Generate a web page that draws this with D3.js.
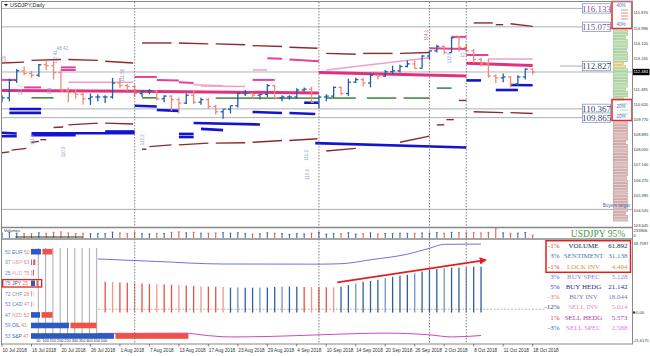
<!DOCTYPE html>
<html><head><meta charset="utf-8">
<script src="https://cdn.jsdelivr.net/npm/d3@7"></script>
<style>html,body{margin:0;padding:0;background:#fff;}svg{display:block;}</style>
</head><body>
<svg id="c" width="650" height="356"></svg>
<script>
// ---------------- DATA ----------------
const tickIdx = [0,4,8,12,16,20,24,28,32,36,40,44,48,52,56,60,64,68,72];
const tickLabels = ["10 Jul 2018","16 Jul 2018","20 Jul 2018","26 Jul 2018","1 Aug 2018","7 Aug 2018","13 Aug 2018","17 Aug 2018","23 Aug 2018","29 Aug 2018","4 Sep 2018","10 Sep 2018","14 Sep 2018","20 Sep 2018","26 Sep 2018","2 Oct 2018","8 Oct 2018","11 Oct 2018","18 Oct 2018"];
const openP  = [110.85,111.00,112.00,112.55,112.40,112.30,112.90,112.85,112.45,111.40,111.30,111.20,110.95,111.05,111.05,111.05,111.85,111.70,111.65,111.25,111.40,111.40,110.95,111.10,110.90,110.70,111.15,110.75,110.90,110.50,110.20,110.35,110.55,111.25,111.25,111.15,111.20,111.70,111.00,111.05,111.05,111.45,111.50,110.75,111.05,111.10,111.60,111.25,111.90,112.05,111.85,112.30,112.25,112.50,112.55,112.80,112.95,112.70,113.40,113.70,113.95,113.60,114.45,113.90,113.70,113.20,112.95,112.25,112.15,112.20,111.80,112.20,112.65];
const highP  = [111.15,112.10,112.65,112.80,112.55,112.95,113.15,113.18,112.60,111.60,111.45,111.30,111.25,111.20,111.15,112.15,112.15,111.80,111.75,111.45,111.50,111.45,111.15,111.15,111.00,111.25,111.45,111.00,111.00,110.60,110.35,110.55,111.30,111.45,111.30,111.20,111.80,111.75,111.15,111.15,111.55,111.60,111.65,111.15,111.20,111.65,111.65,112.10,112.15,112.15,112.40,112.35,112.60,112.85,112.90,113.15,113.15,113.45,113.70,114.05,114.00,114.50,114.55,114.10,113.80,113.30,113.25,112.35,112.40,112.25,112.30,112.70,112.70];
const lowP   = [110.75,110.80,111.85,112.30,112.15,112.20,112.60,112.05,111.40,110.75,110.95,110.60,110.60,110.80,110.70,110.95,111.55,111.40,111.05,111.05,111.20,110.85,110.75,110.25,110.10,110.65,110.65,110.60,110.40,110.05,109.80,110.10,110.45,111.10,110.95,110.90,111.05,110.90,110.80,110.90,110.95,111.35,110.70,110.40,110.80,111.00,111.15,111.10,111.85,111.65,111.60,112.05,112.20,112.35,112.45,112.75,112.65,112.70,113.20,113.60,113.50,113.60,113.65,113.60,113.00,112.80,112.15,111.85,111.90,111.60,111.70,112.05,112.35];
const closeP = [111.00,112.00,112.55,112.40,112.30,112.90,112.85,112.45,111.40,111.30,111.20,110.95,111.05,111.05,111.05,111.85,111.70,111.65,111.25,111.40,111.40,110.95,111.10,110.90,110.70,111.15,110.75,110.90,110.50,110.20,110.35,110.55,111.25,111.25,111.15,111.20,111.70,111.00,111.05,111.05,111.45,111.50,110.75,111.05,111.10,111.60,111.25,111.90,112.05,111.85,112.30,112.25,112.50,112.55,112.80,112.95,112.70,113.40,113.70,113.95,113.60,114.45,113.90,113.70,113.20,112.95,112.25,112.15,112.20,111.80,112.20,112.65,112.48];
const currentPrice = 112.484;
const volumes = [120,135,118,110,105,128,115,140,150,125,110,118,105,112,108,145,125,112,130,108,100,115,110,138,150,128,140,118,120,125,132,118,130,112,98,102,128,120,110,85,108,100,118,135,98,112,104,130,96,105,125,100,110,112,118,116,114,124,120,132,118,140,135,128,130,125,138,228,128,115,120,135,70];
const volumeMax = 233906;
const volumeLine = [[1.8,25],[11,25]];
const axisPrices = [115.870,114.996,114.120,113.245,111.495,110.620,109.770,108.895,108.020,107.140,106.270,105.395,104.520,103.645];
const levelValues = [116.133,115.075,110.367,109.865];
const levelBoxValues = [116.133,115.075,112.827,110.367,109.865];
const buyersTarget = 104.6;
const separatorIdx = [18,43,58,63];
// segments: [startIdx, endIdx, startPrice, endPrice]
const maroonSegs = [[0,3,113.0,113.05],[4,8,113.15,113.2],[9,13,113.2,113.15],[14,17.8,113.1,113.0],
 [19,23,114.15,114.15],[24,28,114.15,114.1],[29,33,114.1,114.05],[34,38,114.0,113.95],[39,42.8,113.9,113.85],
 [44,48,113.55,113.5],[49,53,113.55,113.55],[54,58,113.55,113.6],[64,66.6,115.3,115.3],[67,68,115.2,115.2],[69,72,115.25,115.1],
 [0,1,107.85,107.9],[1.3,3.3,108.0,108.1],[4,5,108.45,108.5],[5.2,6,108.6,108.6],[7,8.3,109.3,109.33],[9,13,109.45,109.55],[14,17.8,109.55,109.5],
 [19,19.6,108.05,108.05],[20,23,108.2,108.3],[24,28,108.3,108.4],[29,33,108.4,108.42],[34,38,108.45,108.55],[39,42.8,108.55,108.65],
 [44,48,107.95,108.1],[54,58,108.45,108.8],[59,60,109.45,109.45],[60.3,61.3,109.75,109.75],[62,63,110.85,110.85],[64,68,110.2,110.15],[69,72,110.15,110.1]];
const blueSegs = [[1,5.3,110.36,110.36],[1,5.3,110.14,110.14],[0,2,109.0,108.95],[0,2,108.8,108.8],[4,18,108.97,108.97],[4,10,108.85,108.85],[14,18,109.07,109.07],
 [18,21,110.55,110.5],[21,24,110.3,110.25],[24,26,108.93,108.93],[24,26,108.75,108.75],[26,35,109.56,109.47],[27,30,109.22,109.15],
 [34,38,110.19,110.13],[39,42.5,110.13,110.07],[41,43,110.72,110.72],[42.5,63,108.4,108.15],[63,65,112.0,112.0],[67,70,111.45,111.45],[69,72,111.74,111.72]];
const greenSegs = [[4,7,111.0,111.0],[19,21,111.0,111.0],[29,43,110.99,110.99],[44,48,110.99,110.99],[49.5,53.5,110.99,110.99],[54.5,58,110.99,110.99],[59,61,111.56,111.56]];
const pinkThick = [[0,18,111.42,111.38],[18,43,111.38,111.28],[43,63,112.45,112.25],[63,72,112.98,112.85]];
const pinkSegs = [[0,2,112.03,112.03],[3,5.3,111.6,111.6],[8,10,112.6,112.6],[8,10,112.75,112.75],[18,21,112.2,112.2],[21,24,112.03,112.0],
 [24,26,111.9,111.85],[34,37,112.03,112.03],[36,38,113.28,113.25],[39,43,113.2,113.1],[58,63,113.85,113.8],[61,63,114.5,114.5],[63,66,113.46,113.46]];
const pinkLightSegs = [[9,17.8,111.9,111.9],[26,30,111.75,111.7],[27,33,111.68,111.65],[34,36,112.6,112.6],[44,58,112.6,113.3],[66,72,113.23,113.23]];
const annotations = [[7.4,113.35,"112.41",1,"#8aa6d6"],[8.2,113.72,"48 42",0,"#8aa6d6"],[0.6,113.2,"120",1,"#e07090"],[2.7,111.45,"111.7",1,"#8aa6d6"],
 [4.3,108.6,"111.9",1,"#8aa6d6"],[8.6,107.9,"110.9",1,"#8aa6d6"],[19.3,108.6,"112.2",1,"#8aa6d6"],[41.5,107.7,"111.2",1,"#8aa6d6"],
 [41.6,106.6,"110.6",1,"#8aa6d6"],[16.6,112.3,"111.56",1,"#8aa6d6"],[6.7,111.4,"111",1,"#8aa6d6"],[60.9,113.3,"112.8",1,"#8aa6d6"],
 [62.5,113.35,"12",0,"#8aa6d6"],[57.8,114.6,"114.1",1,"#e07090"]];
const profileGreen = [14,14,12,14,14,14,13,14,14,14,10,12,14,14,14,14,14,14,12,14,14,10];
const profileYellowIdx = [10,11];
const profileRose = [14,14,14,14,14,14,12,14,14,14,14,14,14,14,14,14,14,13,14,14,14,14,14,14,14,14,14,14,12,14,14];
const profilePctTop = ["40%","40%"];
const profilePctBottom = ["20%","20%"];
// lower panel
const currencies = ["EUR","GBP","AUD","JPY","CHF","CAD","NZD","OIL","S&P"];
const leftPct  = [50,37,25,75,72,53,47,59,53];
const rightPct = [50,63,75,25,28,47,53,41,47];
const nameColors = ["#5a78b8","#f0a0a8","#f0a0b0","#3a5a9a","#8a96a8","#4a7ac0","#f090a0","#3a66b8","#3a66b8"];
const buyVol  = [68,5,2,27,3,3,62,260,568];
const sellVol = [68,14,8,10,2,2,75,178,500];
const gridVals = [50,100,150,200,250,300,350,400,450,500];
const oscIdx = [14,15,16,17,18,19,20,21,22,23,24,25,26,27,28,29,30,31,32,33,34,35,36,37,38,39,40,41,42,43,44,45,46,47,48,49,50,51,52,53,54,55,56,57,58,59,60,61,62,63,64,65];
const oscVal = [22.0,21.8,21.5,21.2,21.0,20.7,20.4,20.2,20.0,19.8,19.6,19.3,19.0,18.7,18.5,18.4,18.2,17.8,17.8,17.7,17.8,17.8,17.9,18.3,18.5,18.6,18.5,18.3,18.2,18.0,18.0,18.0,18.5,19.6,20.8,22.0,22.6,23.4,24.4,25.5,26.2,27.0,28.0,29.2,30.4,31.0,31.5,32.0,32.0,32.3,32.6,32.7];
const oscCol = ["r","R","r","r","R","r","r","R","r","r","R","r","r","R","r","r","R","b","B","b","b","B","b","b","B","b","b","r","R","r","r","R","b","b","B","b","b","b","B","b","b","b","B","b","b","b","B","b","b","B","b","b"];
const slateLine = [[13,38.2],[21,36.4],[30,34.6],[43,34.5],[46,34.8],[50,37.6],[55,41.6],[58,45.8],[60,48.6],[65,48.8]];
const magentaLine = [[13,-14.8],[25,-14.6],[27,-15.8],[31,-17.3],[36,-17.0],[43,-15.8],[52,-14.6],[58,-15.8],[61,-17.3],[65,-16.3]];
const oscRefLevel = 2.4;
const arrowPts = [[45.5,21.6],[65.6,37.4]];
const oscAxis = [49.7597,0,-21.6175];
const tablePct = ["-1%","3%","-1%","3%","5%","-3%","-12%","1%","-3%"];
const tableNames = ["VOLUME","SENTIMENT","LOCK INV","BUY SPEC","BUY HEDG","BUY INV","SELL INV","SELL HEDG","SELL SPEC"];
const tableVals = ["61.892","31.138","4.404","5.128","21.142","18.044","5.014","5.573","2.588"];
const pctColors = ["#d04040","#3a6ab0","#d04040","#4a7ac0","#2a3a90","#e07060","#2a3a90","#d04040","#2a70a0"];
const tNameColors = ["#202050","#4a7ab0","#c89a40","#8a8ae0","#2a2a90","#7a7ab8","#e890b8","#c03a90","#e07ae0"];
const tValColors = ["#202040","#4a7ab0","#c89a40","#8a8ae0","#2a2a90","#7a7ab8","#e890b8","#c03a90","#e07ae0"];
const symbolStrength = "USDJPY 95%";

// ---------------- SCALES ----------------
const svg = d3.select("#c");
const x = d3.scaleLinear().domain([0,72]).range([2, 2+72*7.37]);
const yP = d3.scaleLinear().domain([103.645,115.870]).range([226,13]);
const yV = d3.scaleLinear().domain([0,233.906]).range([238,228.5]);
const yO = d3.scaleLinear().domain([-21.6175,49.7597]).range([343,242.7]);
const SANS = "'Liberation Sans', Arial, sans-serif";
const SERIF = "'Liberation Serif', 'Times New Roman', serif";

svg.append("rect").attr("width",650).attr("height",356).attr("fill","#fff");
const defs = svg.append("defs");
defs.append("clipPath").attr("id","cm").append("rect").attr("x",2).attr("y",2).attr("width",630).attr("height",225);
defs.append("marker").attr("id","arr").attr("viewBox","0 0 10 10").attr("refX",8).attr("refY",5)
  .attr("markerWidth",4).attr("markerHeight",4).attr("orient","auto")
  .append("path").attr("d","M0,0L10,5L0,10z").attr("fill","#e02020");

// ---------------- MAIN PANEL ----------------
const main = svg.append("g").attr("clip-path","url(#cm)");
main.selectAll(".lvl").data(levelValues).join("line")
  .attr("x1",2).attr("x2",583).attr("y1",d=>yP(d)).attr("y2",d=>yP(d))
  .attr("stroke","#a8b0b8").attr("stroke-width",1);
main.append("line").attr("x1",2).attr("x2",632).attr("y1",yP(buyersTarget)).attr("y2",yP(buyersTarget))
  .attr("stroke","#a8b0b8");
main.append("line").attr("x1",2).attr("x2",632).attr("y1",yP(currentPrice)).attr("y2",yP(currentPrice))
  .attr("stroke","#b0b4b8");
main.append("line").attr("x1",560).attr("x2",583).attr("y1",yP(levelBoxValues[2])).attr("y2",yP(levelBoxValues[2]))
  .attr("stroke","#a8b0b8");

function segs(data, color, w){
  main.append("g").selectAll("line").data(data).join("line")
    .attr("x1",d=>x(d[0])).attr("x2",d=>x(d[1])).attr("y1",d=>yP(d[2])).attr("y2",d=>yP(d[3]))
    .attr("stroke",color).attr("stroke-width",w);
}
segs(pinkLightSegs,"#f0a0c8",1.5);
segs(greenSegs,"#1f6a1f",1.3);
segs(maroonSegs,"#8b2a2a",1.4);
segs(blueSegs,"#1414d0",2.6);
segs(pinkThick,"#e0307e",3);
segs(pinkSegs,"#e8409a",2);

annotations.forEach(a=>{
  const t = main.append("text").attr("x",x(a[0])).attr("y",yP(a[1]))
    .attr("font-family",SANS).attr("font-size",4.5).attr("fill",a[4])
    .attr("text-anchor","middle").text(a[2]);
  if(a[3]) t.attr("transform",`rotate(-90,${x(a[0])},${yP(a[1])})`);
});

const bars = main.append("g");
d3.range(openP.length).forEach(i=>{
  const c = closeP[i] >= openP[i] ? "#1f5fa8" : "#f08a78";
  const xi = x(i);
  bars.append("line").attr("x1",xi).attr("x2",xi).attr("y1",yP(highP[i])).attr("y2",yP(lowP[i])).attr("stroke",c).attr("stroke-width",1.3);
  bars.append("line").attr("x1",xi-2.5).attr("x2",xi).attr("y1",yP(openP[i])).attr("y2",yP(openP[i])).attr("stroke",c).attr("stroke-width",1.3);
  bars.append("line").attr("x1",xi).attr("x2",xi+2.5).attr("y1",yP(closeP[i])).attr("y2",yP(closeP[i])).attr("stroke",c).attr("stroke-width",1.3);
});

const boxColors = ["#7d4f9e","#7d4f9e","#2e3f66","#3a3f7a","#3a3f7a"];
levelBoxValues.forEach((v,k)=>{
  const yy = yP(v);
  svg.append("rect").attr("x",582.5).attr("y",yy-4.7).attr("width",28).attr("height",9.4)
    .attr("fill","#fff").attr("stroke","#8a98b8").attr("stroke-width",0.8);
  svg.append("text").attr("x",596.5).attr("y",yy+3.2).attr("text-anchor","middle")
    .attr("font-family",SERIF).attr("font-size",9).attr("fill",boxColors[k]).text(v.toFixed(3));
});

const bandG = d3.scaleBand().domain(d3.range(profileGreen.length)).range([29,101]).padding(0.3);
svg.append("g").selectAll("rect").data(profileGreen).join("rect")
  .attr("x",613.5).attr("y",(d,i)=>bandG(i)).attr("width",d=>d).attr("height",bandG.bandwidth())
  .attr("fill",(d,i)=>profileYellowIdx.includes(i)?"#efe6a8":"#cfe6c4")
  .attr("stroke",(d,i)=>profileYellowIdx.includes(i)?"#c8b860":"#8cbf84").attr("stroke-width",0.6);
const bandR = d3.scaleBand().domain(d3.range(profileRose.length)).range([121,222]).padding(0.3);
svg.append("g").selectAll("rect").data(profileRose).join("rect")
  .attr("x",613.5).attr("y",(d,i)=>bandR(i)).attr("width",d=>d).attr("height",bandR.bandwidth())
  .attr("fill","#e8cccc").attr("stroke","#b88a8a").attr("stroke-width",0.6);
[10,13,16,19].forEach(d=>svg.append("line").attr("x1",621).attr("x2",628).attr("y1",d).attr("y2",d).attr("stroke","#e07070").attr("stroke-width",0.8));
[104,110,114].forEach(d=>svg.append("line").attr("x1",620).attr("x2",628).attr("y1",d).attr("y2",d).attr("stroke","#9fcf8f").attr("stroke-width",0.8));
const pctTxt = (t,yy)=>svg.append("text").attr("x",621).attr("y",yy).attr("text-anchor","middle").attr("font-family",SANS)
  .attr("font-size",4.6).attr("fill","#3a7ad0").text(t);
pctTxt(profilePctTop[0],7.2); pctTxt(profilePctTop[1],25.5);
pctTxt(profilePctBottom[0],108); pctTxt(profilePctBottom[1],117.5);
svg.append("rect").attr("x",612).attr("y",1.5).attr("width",20).attr("height",27).attr("fill","none").attr("stroke","#e02a2a").attr("stroke-width",1.5);
svg.append("rect").attr("x",612).attr("y",99.5).attr("width",20).attr("height",21).attr("fill","none").attr("stroke","#e02a2a").attr("stroke-width",1.5);
svg.append("text").attr("x",630).attr("y",206.5).attr("text-anchor","end").attr("font-family",SANS).attr("font-size",4.6)
  .attr("fill","#4a6aa8").text("Buyers target");

svg.append("path").attr("d","M4,4L8,4L6,6.5z").attr("fill","#222");
svg.append("text").attr("x",10).attr("y",7).attr("font-family",SANS).attr("font-size",5.5).attr("fill","#222").text("USDJPY,Daily");

// ---------------- VOLUME PANEL ----------------
const vg = svg.append("g");
volumes.forEach((v,i)=>{
  const c = closeP[i] >= openP[i] ? "#2d5f9e" : "#e8513f";
  vg.append("line").attr("x1",x(i)).attr("x2",x(i)).attr("y1",yV(0)).attr("y2",yV(v)).attr("stroke",c).attr("stroke-width",1);
  vg.append("line").attr("x1",x(i)-1).attr("x2",x(i)+1).attr("y1",yV(v)).attr("y2",yV(v)).attr("stroke",c).attr("stroke-width",0.8);
});
vg.append("path").datum(volumeLine).attr("d",d3.line().x(d=>x(d[0])).y(d=>yV(d[1]))).attr("stroke","#203a20").attr("stroke-width",1).attr("fill","none");
svg.append("text").attr("x",4).attr("y",232).attr("font-family",SANS).attr("font-size",4.2).attr("fill","#333").text("Volumes");
svg.append("text").attr("x",598).attr("y",236.5).attr("text-anchor","middle").attr("font-family",SERIF).attr("font-size",9.5)
  .attr("fill","#4a9a4a").text(symbolStrength);

// ---------------- LOWER PANEL ----------------
const lg = svg.append("g");
lg.append("line").attr("x1",98).attr("x2",545).attr("y1",yO(oscRefLevel)).attr("y2",yO(oscRefLevel))
  .attr("stroke","#b0a890").attr("stroke-width",0.8).attr("stroke-dasharray","2,1.5");
const oscColMap = {r:"#e8513f",R:"#f2978a",b:"#2d5f9e",B:"#6f94c8"};
lg.selectAll(".osc").data(oscIdx).join("line")
  .attr("x1",d=>x(d)).attr("x2",d=>x(d)).attr("y1",yO(0)).attr("y2",(d,i)=>yO(oscVal[i]))
  .attr("stroke",(d,i)=>oscColMap[oscCol[i]]).attr("stroke-width",1.3);
const ln = d3.line().x(d=>x(d[0])).y(d=>yO(d[1])).curve(d3.curveMonotoneX);
lg.append("path").datum(slateLine).attr("d",ln).attr("fill","none").attr("stroke","#7070e0").attr("stroke-width",1);
lg.append("path").datum(magentaLine).attr("d",ln).attr("fill","none").attr("stroke","#c848c8").attr("stroke-width",1);
lg.append("line").attr("x1",x(arrowPts[0][0])).attr("y1",yO(arrowPts[0][1])).attr("x2",x(arrowPts[1][0])).attr("y2",yO(arrowPts[1][1]))
  .attr("stroke","#e02020").attr("stroke-width",1.8).attr("marker-end","url(#arr)");

const rowY = d3.scalePoint().domain(currencies).range([251.7,336]);
const xv = d3.scaleLinear().domain([0,50]).range([0,7.3]);
const gx0 = 31;
lg.selectAll(".grd").data(gridVals.slice(0,9)).join("line")
  .attr("x1",d=>gx0+xv(d)).attr("x2",d=>gx0+xv(d)).attr("y1",248).attr("y2",337)
  .attr("stroke","#a0a0a0").attr("stroke-width",0.9);
lg.selectAll(".gl").data(gridVals).join("text")
  .attr("x",d=>gx0+xv(d)).attr("y",342.3).attr("text-anchor","middle").attr("font-family",SANS)
  .attr("font-size",3.8).attr("fill","#333").text(d=>d);
currencies.forEach((c,i)=>{
  const yy = rowY(c);
  if(buyVol[i]>0) lg.append("rect").attr("x",gx0).attr("y",yy-2.8).attr("width",xv(buyVol[i])).attr("height",5.6).attr("fill","#2a5cc0");
  if(sellVol[i]>0) lg.append("rect").attr("x",gx0+xv(buyVol[i])+1.5).attr("y",yy-2.8).attr("width",xv(sellVol[i])).attr("height",5.6).attr("fill","#f0524a");
  const t = lg.append("text").attr("x",5).attr("y",yy+1.8).attr("font-family",SANS).attr("font-size",5);
  t.append("tspan").attr("fill","#6a88c0").text(leftPct[i]+" ");
  t.append("tspan").attr("fill",nameColors[i]).text(c+" ");
  t.append("tspan").attr("fill","#f07a70").text(rightPct[i]);
});
lg.append("rect").attr("x",2.7).attr("y",rowY("JPY")-3.7).attr("width",39).attr("height",7.4).attr("fill","none").attr("stroke","#e02020").attr("stroke-width",1.3);

const rowT = d3.scalePoint().domain(tableNames).range([245.7,327.3]);
tableNames.forEach((n,i)=>{
  const yy = rowT(n)+2.4;
  lg.append("text").attr("x",559.5).attr("y",yy).attr("text-anchor","end").attr("font-family",SERIF).attr("font-size",7).attr("fill",pctColors[i]).text(tablePct[i]);
  lg.append("text").attr("x",583.5).attr("y",yy).attr("text-anchor","middle").attr("font-family",SERIF).attr("font-size",7).attr("fill",tNameColors[i]).text(n);
  lg.append("text").attr("x",627.5).attr("y",yy).attr("text-anchor","end").attr("font-family",SERIF).attr("font-size",7).attr("fill",tValColors[i]).text(tableVals[i]);
});
lg.append("rect").attr("x",546).attr("y",240.7).attr("width",84.5).attr("height",31.6).attr("fill","none").attr("stroke","#e02020").attr("stroke-width",1.5);

// ---------------- FRAMES / SEPARATORS ----------------
svg.selectAll(".sep").data(separatorIdx).join("line")
  .attr("x1",d=>x(d)).attr("x2",d=>x(d)).attr("y1",2).attr("y2",344)
  .attr("stroke","#666").attr("stroke-width",0.8).attr("stroke-dasharray","1.5,1.5");
svg.append("rect").attr("x",1.5).attr("y",1.5).attr("width",631).attr("height",342.5).attr("fill","none").attr("stroke","#888").attr("stroke-width",1);
svg.append("line").attr("x1",1.5).attr("x2",632.5).attr("y1",227.5).attr("y2",227.5).attr("stroke","#888").attr("stroke-width",1.6);
svg.append("line").attr("x1",1.5).attr("x2",632.5).attr("y1",239).attr("y2",239).attr("stroke","#888").attr("stroke-width",1.6);

// right axes
const AXF = 4.1, AXX = 633.6;
const ax = svg.append("g").attr("font-family",SANS).attr("font-size",AXF).attr("fill","#333");
axisPrices.forEach(p=>{
  ax.append("text").attr("x",AXX).attr("y",yP(p)+1.3).text(p.toFixed(3));
});
svg.append("rect").attr("x",633).attr("y",yP(currentPrice)-3.2).attr("width",16.5).attr("height",6.4).attr("fill","#000");
svg.append("text").attr("x",AXX).attr("y",yP(currentPrice)+1.5).attr("font-family",SANS).attr("font-size",AXF).attr("fill","#fff").text(currentPrice.toFixed(3));
ax.append("text").attr("x",AXX).attr("y",232.4).text(d3.format("d")(volumeMax));
ax.append("text").attr("x",AXX).attr("y",236.6).text("0");
ax.append("text").attr("x",AXX).attr("y",yO(oscAxis[0])+1.8).text(oscAxis[0]);
ax.append("rect").attr("x",633).attr("y",yO(0)-1.2).attr("width",2.2).attr("height",2.2).attr("fill","#333");
ax.append("text").attr("x",636).attr("y",yO(0)+1.5).text(oscAxis[1].toFixed(2));
ax.append("text").attr("x",AXX-0.6).attr("y",yO(oscAxis[2])-0.8).attr("textLength",15.6).attr("lengthAdjust","spacingAndGlyphs").text(oscAxis[2]);

// x axis
const xa = svg.append("g");
tickIdx.forEach((t,k)=>{
  xa.append("line").attr("x1",x(t)).attr("x2",x(t)).attr("y1",344).attr("y2",346.5).attr("stroke","#333").attr("stroke-width",0.6);
  xa.append("text").attr("x",x(t)+0.5).attr("y",352).attr("font-family",SANS).attr("font-size",4.7).attr("fill","#333").text(tickLabels[k]);
});
</script></body></html>
